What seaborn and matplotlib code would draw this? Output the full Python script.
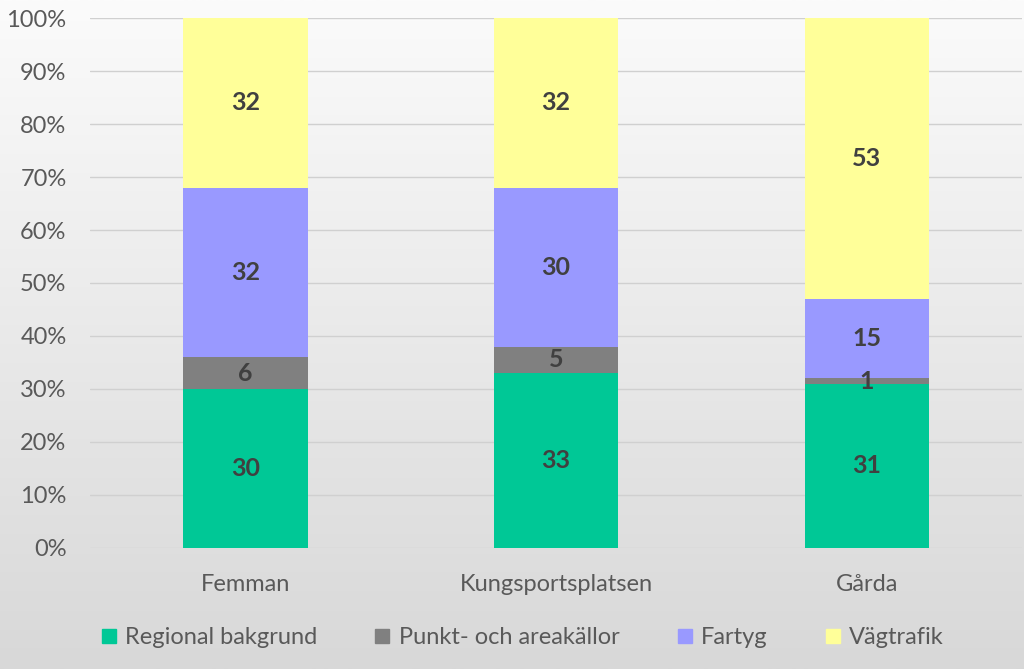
import numpy as np
import matplotlib
matplotlib.use("Agg")
import matplotlib.pyplot as plt
import seaborn as sns
from matplotlib.ticker import PercentFormatter
from matplotlib.lines import Line2D

sites = ["Femman", "Kungsportsplatsen", "Gårda"]
series = ["Regional bakgrund", "Punkt- och areakällor", "Fartyg", "Vägtrafik"]
regional = [30, 33, 31]
punkt = [6, 5, 1]
fartyg = [32, 30, 15]
vagtrafik = [32, 32, 53]
colors = ["#00C896", "#808080", "#9999FF", "#FFFF99"]

sns.set_style("white")
plt.rcParams["font.family"] = ["Lato", "DejaVu Sans"]

fig = plt.figure(figsize=(10.24, 6.69), dpi=100)

# excel-ish grey gradient behind everything
bg = fig.add_axes([0, 0, 1, 1], zorder=-5)
grad = np.linspace(0, 1, 256).reshape(-1, 1)
bg.imshow(grad, aspect="auto", cmap=matplotlib.colors.LinearSegmentedColormap.from_list(
    "g", ["#FBFBFB", "#D8D8D8"]), extent=[0, 1, 0, 1])
bg.axis("off")

ax = fig.add_axes([0.088, 0.181, 0.91, 0.792])
ax.patch.set_alpha(0)

bottom = np.zeros(3)
for name, vals, col in zip(series, [regional, punkt, fartyg, vagtrafik], colors):
    sns.barplot(x=sites, y=vals, bottom=bottom, color=col, width=0.4,
                saturation=1, ax=ax, zorder=3, linewidth=0)
    bottom += np.array(vals)

for cont in ax.containers:
    ax.bar_label(cont, label_type="center", fontsize=18, fontweight="bold",
                 color="#404040")

ax.set_ylim(0, 100)
ax.set_xlim(-0.5, 2.5)
ax.set_yticks(range(0, 101, 10))
ax.yaxis.set_major_formatter(PercentFormatter(decimals=0))
ax.grid(axis="y", color="#D0D0D0", lw=1, zorder=0)
sns.despine(ax=ax, left=True, bottom=True)
ax.tick_params(axis="both", labelsize=17, colors="#595959", length=0)
ax.tick_params(axis="x", pad=19)
ax.tick_params(axis="y", pad=17)

handles = [Line2D([], [], marker="s", ls="", color=c, markersize=10) for c in colors]
fig.legend(handles, series, loc="center", bbox_to_anchor=(0.51, 0.047), ncol=4,
           frameon=False, fontsize=17, handlelength=0.7, handletextpad=0.35,
           columnspacing=2.4, labelcolor="#595959")

fig.savefig("out.png", dpi=100)
